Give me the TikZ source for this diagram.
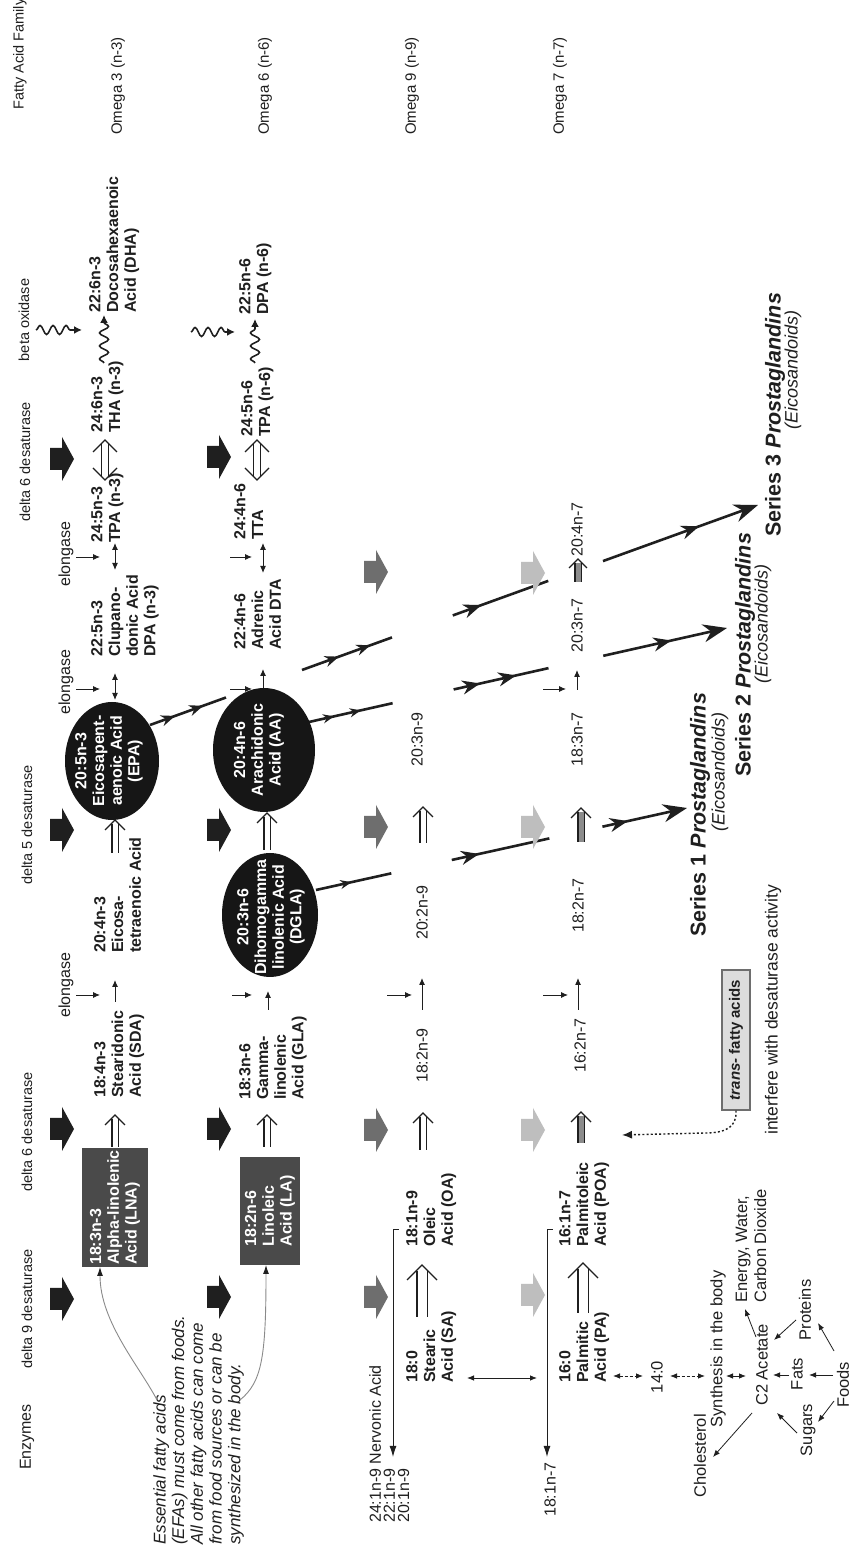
\documentclass[tikz,border=0pt]{standalone}
\usepackage{fontspec}
\setmainfont{Liberation Sans}
\usetikzlibrary{arrows.meta,shapes.geometric,decorations.pathmorphing,decorations.markings,calc}
\definecolor{ink}{HTML}{1F1F1F}
\definecolor{boxgray}{HTML}{4A4A4A}
\definecolor{ellblack}{HTML}{161616}
\definecolor{arrmid}{HTML}{6E6E6E}
\definecolor{arrlight}{HTML}{BEBEBE}
\definecolor{shaftgray}{HTML}{8C8C8C}
\definecolor{transfill}{HTML}{DDDDDD}
\definecolor{curvegray}{HTML}{8A8A8A}
\tikzset{
  lbl/.style={rotate=90, inner sep=0pt, text=ink},
  hdr/.style={lbl, font=\fontsize{14.5}{16}\selectfont},
  elg/.style={lbl, font=\fontsize{16}{18}\selectfont},
  fam/.style={lbl, anchor=west, font=\fontsize{15}{17}\selectfont},
  cmp/.style={lbl, anchor=north west, align=left, font=\bfseries\fontsize{16}{17.7}\selectfont},
  sml/.style={lbl, anchor=west, font=\fontsize{16}{18}\selectfont},
  reg/.style={lbl, font=\fontsize{16.5}{19}\selectfont},
  gbox/.style={rotate=90, fill=boxgray, text=white, align=left, inner sep=2pt, font=\bfseries\fontsize{16}{17.7}\selectfont},
  ellshape/.style={ellipse, rotate=90, fill=ellblack, inner sep=0pt},
  elltext/.style={rotate=90, text=white, align=center, inner sep=0pt, font=\bfseries\fontsize{16}{17.7}\selectfont},
  pgt/.style={lbl, anchor=west, font=\bfseries\fontsize{21.5}{24}\selectfont},
  eic/.style={lbl, font=\itshape\fontsize{18}{20}\selectfont},
  rx/.style={draw=ink, line width=1pt, -{Latex[length=7pt,width=6pt]}},
  rxx/.style={draw=ink, line width=1pt, {Latex[length=7pt,width=6pt]}-{Latex[length=7pt,width=6pt]}},
  ex/.style={draw=ink, line width=0.9pt, -{Latex[length=7pt,width=6pt]}},
  cl/.style={draw=ink, line width=0.8pt, -{Latex[length=7pt,width=5.5pt]}},
  clx/.style={draw=ink, line width=0.8pt, {Latex[length=7pt,width=5.5pt]}-{Latex[length=7pt,width=5.5pt]}},
  wavy/.style={draw=ink, line width=1.6pt, decorate, decoration={snake, amplitude=4.5pt, segment length=13pt, post length=7pt}, -{Latex[length=8pt,width=8pt]}},
  pgl/.style={draw=ink, line width=2.6pt},
  pgs/.style={postaction={decorate, decoration={markings, mark=at position #1 with {\arrow{Stealth[length=11pt,width=9pt]}}}}},
  pgm/.style={postaction={decorate, decoration={markings, mark=at position #1 with {\arrow{Stealth[length=14pt,width=11pt]}}}}},
  pgb/.style={postaction={decorate, decoration={markings, mark=at position #1 with {\arrow{Stealth[length=18pt,width=14pt]}}}}},
  pgend/.style={-{Stealth[length=24pt,width=18pt]}},
  tdot/.style={draw=ink, line width=1.4pt, dash pattern=on 2pt off 2.2pt, -{Latex[length=10pt,width=8pt]}},
  esscurve/.style={draw=curvegray, line width=0.9pt, -{Latex[length=9pt,width=6pt,color=ink]}},
  pics/blk/.style={code={\fill[#1] (-11,0) -- (11,0) -- (11,12) -- (22,12) -- (0,24) -- (-22,12) -- (-11,12) -- cycle;}},
  pics/hol/.style n args={5}{code={
    \draw[draw=ink, line width=1.1pt, double=#4, double distance=#3] (0,0) -- (#1-#5,0);
    \draw[draw=ink, line width=1.3pt] (#1-#2,-#2) -- (#1,0) -- (#1-#2,#2);}},
  pics/holtwo/.style n args={4}{code={
    \draw[draw=ink, line width=1.1pt, double=white, double distance=#3] (#4,0) -- (#1-#4,0);
    \draw[draw=ink, line width=1.3pt] (#1-#2,-#2) -- (#1,0) -- (#1-#2,#2);
    \draw[draw=ink, line width=1.3pt] (#2,-#2) -- (0,0) -- (#2,#2);}}
}
\begin{document}
\begin{tikzpicture}[x={(0pt,1pt)}, y={(1pt,0pt)}]
\fill[white] (0,0) rectangle (1547,853);
\useasboundingbox (0,0) rectangle (1547,853);

% ---------- headers ----------
\node[hdr, font=\fontsize{16}{18}\selectfont] (hEnz) at (110,27) {Enzymes};
\node[hdr] (hD9) at (238,27) {delta 9 desaturase};
\node[hdr] (hD6a) at (415,27) {delta 6 desaturase};
\node[hdr] (hD5) at (722,27) {delta 5 desaturase};
\node[hdr] (hD6b) at (1085,25) {delta 6 desaturase};
\node[hdr] (hBeta) at (1227,24) {beta oxidase};
\node[hdr, anchor=west] (hFam) at (1437,20) {Fatty Acid Family};
\node[elg] (el1) at (562,66) {elongase};
\node[elg] (el2) at (865,66) {elongase};
\node[elg] (el3) at (993,66) {elongase};

% ---------- family labels ----------
\node[fam] (f3) at (1412,118) {Omega 3 (n-3)};
\node[fam] (f6) at (1412,265) {Omega 6 (n-6)};
\node[fam] (f9) at (1412,412) {Omega 9 (n-9)};
\node[fam] (f7) at (1412,560) {Omega 7 (n-7)};

% ---------- prostaglandin lines (under ellipses) ----------
\coordinate (s1s) at (657,316); \coordinate (s1e) at (739,687);
\draw[pgl, pgs=0.47] (s1s) -- ($(s1s)!0.203!(s1e)$);
\draw[pgl, pgb=0.28] ($(s1s)!0.366!(s1e)$) -- ($(s1s)!0.629!(s1e)$);
\draw[pgl, pgb=0.3, pgend] ($(s1s)!0.772!(s1e)$) -- (s1e);
\coordinate (s2s) at (825,309); \coordinate (s2e) at (919,727);
\draw[pgl, pgs=0.3, pgs=0.62] (s2s) -- ($(s2s)!0.2!(s2e)$);
\draw[pgl, pgb=0.28, pgb=0.66] ($(s2s)!0.346!(s2e)$) -- ($(s2s)!0.573!(s2e)$);
\draw[pgl, pgb=0.55, pgend] ($(s2s)!0.704!(s2e)$) -- (s2e);
\coordinate (s3s) at (822,150); \coordinate (s3e) at (1042,758);
\draw[pgl, pgm=0.33, pgm=0.7] (s3s) -- ($(s3s)!0.125!(s3e)$);
\draw[pgl, pgm=0.41, pgm=0.76] ($(s3s)!0.25!(s3e)$) -- ($(s3s)!0.398!(s3e)$);
\draw[pgl, pgb=0.3] ($(s3s)!0.498!(s3e)$) -- ($(s3s)!0.655!(s3e)$);
\draw[pgl, pgb=0.62, pgend] ($(s3s)!0.745!(s3e)$) -- (s3e);

% ---------- omega 3 row ----------
\node[gbox, minimum width=119pt, minimum height=66pt] (lna) at (339.5,115) {18:3n-3\\Alpha-linolenic\\Acid (LNA)};
\node[cmp] (sda) at (449,94) {18:4n-3\\Stearidonic\\Acid (SDA)};
\node[cmp] (eta) at (594,94) {20:4n-3\\Eicosa-\\tetraenoic Acid};
\node[ellshape, minimum width=118pt, minimum height=94pt] (epa) at (786,112) {};
\node[elltext] (epat) at (786,109) {20:5n-3\\Eicosapent-\\aenoic Acid\\(EPA)};
\node[cmp] (dpa3) at (890,91) {22:5n-3\\Clupano-\\donic Acid\\DPA (n-3)};
\node[cmp] (tpa3) at (1004,91) {24:5n-3\\TPA (n-3)};
\node[cmp] (tha) at (1114,91) {24:6n-3\\THA (n-3)};
\node[cmp] (dha) at (1234,89) {22:6n-3\\Docosahexaenoic\\Acid (DHA)};

% ---------- omega 6 row ----------
\node[gbox, minimum width=108pt, minimum height=60pt] (la) at (336,270) {18:2n-6\\Linoleic\\Acid (LA)};
\node[cmp] (gla) at (447,239) {18:3n-6\\Gamma-\\linolenic\\Acid (GLA)};
\node[ellshape, minimum width=124pt, minimum height=96pt] (dgla) at (632,270) {};
\node[elltext] (dglat) at (630,271) {20:3n-6\\Dihomogamma\\linolenic Acid\\(DGLA)};
\node[ellshape, minimum width=124pt, minimum height=102pt] (aa) at (797,264) {};
\node[elltext] (aat) at (797,259) {20:4n-6\\Arachidonic\\Acid (AA)};
\node[cmp] (dta) at (897,234) {22:4n-6\\Adrenic\\Acid DTA};
\node[cmp] (tta) at (1007,234) {24:4n-6\\TTA};
\node[cmp] (tpa6) at (1110,241) {24:5n-6\\TPA (n-6)};
\node[cmp] (dpa6) at (1232,239) {22:5n-6\\DPA (n-6)};

% ---------- omega 9 row ----------
\node[cmp] (sa) at (164,406) {18:0\\Stearic\\Acid (SA)};
\node[cmp] (oa) at (300,406) {18:1n-9\\Oleic\\Acid (OA)};
\node[sml] (n9a) at (464,422) {18:2n-9};
\node[sml] (n9b) at (607,422) {20:2n-9};
\node[sml] (n9c) at (780,417) {20:3n-9};
\node[lbl, anchor=north west, align=left, font=\fontsize{16}{14.2}\selectfont] (nerv) at (24,369) {24:1n-9 Nervonic Acid\\22:1n-9\\20:1n-9};

% ---------- omega 7 row ----------
\node[cmp] (pa) at (164,559) {16:0\\Palmitic\\Acid (PA)};
\node[cmp] (poa) at (300,559) {16:1n-7\\Palmitoleic\\Acid (POA)};
\node[sml] (n7a) at (474,580) {16:2n-7};
\node[sml] (n7b) at (614,578) {18:2n-7};
\node[sml] (n7c) at (780,577) {18:3n-7};
\node[sml] (n7d) at (894,577) {20:3n-7};
\node[sml] (n7e) at (990,577) {20:4n-7};
\node[sml] (n7f) at (30,550) {18:1n-7};

% ---------- enzyme block arrows ----------
\pic at (248,50) {blk=ink};  \pic at (250,207) {blk=ink};
\pic at (250,364) {blk=arrmid}; \pic at (252,521) {blk=arrlight};
\pic at (418,50) {blk=ink};  \pic at (418,207) {blk=ink};
\pic at (417,364) {blk=arrmid}; \pic at (417,521) {blk=arrlight};
\pic at (717,50) {blk=ink};  \pic at (717,207) {blk=ink};
\pic at (720,364) {blk=arrmid}; \pic at (720,521) {blk=arrlight};
\pic at (975,364) {blk=arrmid}; \pic at (974,521) {blk=arrlight};
\pic at (1088,50) {blk=ink};  \pic at (1090,207) {blk=ink};

% ---------- hollow (desaturation) arrows ----------
\pic at (400,115) {hol={32}{10}{5pt}{white}{3.6}};
\pic at (694,115) {hol={33}{10}{5pt}{white}{3.6}};
\pic at (400,267) {hol={32}{10}{5pt}{white}{3.6}};
\pic at (697,267) {hol={37}{10}{5pt}{white}{3.6}};
\pic at (230,422) {hol={52}{15}{9pt}{white}{5.6}};
\pic at (397,423) {hol={37}{10}{5pt}{white}{3.6}};
\pic at (704,423) {hol={36}{10}{5pt}{white}{3.6}};
\pic at (234,583) {hol={50}{15}{9pt}{white}{5.6}};
\pic at (404,581) {hol={31}{10}{5pt}{shaftgray}{3.6}};
\pic at (705,581) {hol={34}{10}{5pt}{shaftgray}{3.6}};
\pic at (965,578) {hol={23}{9}{5pt}{shaftgray}{3.6}};
\pic at (1067,105) {holtwo={40}{12}{6pt}{4.1}};
\pic at (1067,257) {holtwo={40}{12}{6pt}{4.1}};

% ---------- elongase arrows ----------
\coordinate (ea1) at (552,76);  \coordinate (eb1) at (552,100);
\coordinate (ea2) at (552,232); \coordinate (eb2) at (552,252);
\coordinate (ea3) at (552,387); \coordinate (eb3) at (552,412);
\coordinate (ea4) at (552,543); \coordinate (eb4) at (552,568);
\coordinate (ea5) at (858,76);  \coordinate (eb5) at (858,100);
\coordinate (ea6) at (858,230); \coordinate (eb6) at (858,252);
\coordinate (ea7) at (858,543); \coordinate (eb7) at (858,566);
\coordinate (ea8) at (990,76);  \coordinate (eb8) at (990,100);
\coordinate (ea9) at (990,230); \coordinate (eb9) at (990,252);
\foreach \i in {1,...,9} {\draw[ex] (ea\i) -- (eb\i);}

% ---------- reaction arrows ----------
\coordinate (ra1) at (545,115); \coordinate (rb1) at (567,115);
\coordinate (ra2) at (537,268); \coordinate (rb2) at (556,268);
\coordinate (ra3) at (859,263); \coordinate (rb3) at (878,263);
\coordinate (ra4) at (537,422); \coordinate (rb4) at (569,422);
\coordinate (ra5) at (537,578); \coordinate (rb5) at (569,578);
\coordinate (ra6) at (857,577); \coordinate (rb6) at (877,577);
\foreach \i in {1,...,6} {\draw[rx] (ra\i) -- (rb\i);}
\coordinate (da1) at (847,115); \coordinate (db1) at (874,115);
\coordinate (da2) at (977,115); \coordinate (db2) at (1004,115);
\coordinate (da3) at (974,263); \coordinate (db3) at (1004,263);
\foreach \i in {1,2,3} {\draw[rxx] (da\i) -- (db\i);}

% ---------- wavy (beta oxidation) ----------
\coordinate (wa1) at (1184,104); \coordinate (wb1) at (1232,104);
\coordinate (wa2) at (1184,255); \coordinate (wb2) at (1228,255);
\coordinate (wa3) at (1217,36);  \coordinate (wb3) at (1217,82);
\coordinate (wa4) at (1215,191); \coordinate (wb4) at (1215,235);
\foreach \i in {1,...,4} {\draw[wavy] (wa\i) -- (wb\i);}

% ---------- elongation lines to long chains ----------
\coordinate (nv1) at (317,393); \coordinate (nv2) at (90,393);
\draw[draw=ink, line width=1pt, -{Latex[length=11pt,width=7pt]}] (nv1) -- (nv2);
\draw[draw=ink, line width=1pt] (nv1) -- ++(0,6);
\coordinate (nw1) at (317,547); \coordinate (nw2) at (90,547);
\draw[draw=ink, line width=1pt, -{Latex[length=11pt,width=7pt]}] (nw1) -- (nw2);
\draw[draw=ink, line width=1pt] (nw1) -- ++(0,6);

% ---------- synthesis cluster ----------
\node[reg] (c140) at (170,657) {14:0};
\node[reg] (chol) at (91,700) {Cholesterol};
\node[reg] (syn) at (198,718) {Synthesis in the body};
\node[reg] (c2) at (182,762) {C2 Acetate};
\node[reg, anchor=west, align=left] (energy) at (244,751) {Energy, Water,\\Carbon Dioxide};
\node[reg] (fats) at (173,797) {Fats};
\node[reg] (sugars) at (117,808) {Sugars};
\node[reg] (prot) at (237,805) {Proteins};
\node[reg] (foods) at (162,843) {Foods};
\coordinate (v1a) at (169,467); \coordinate (v1b) at (169,537);
\draw[clx] (v1a) -- (v1b);
\coordinate (v2a) at (171,613); \coordinate (v2b) at (171,643);
\draw[clx, densely dashed] (v2a) -- (v2b);
\coordinate (v3a) at (171,670); \coordinate (v3b) at (171,705);
\draw[clx, densely dashed] (v3a) -- (v3b);
\coordinate (v4a) at (171,726); \coordinate (v4b) at (171,746);
\draw[clx] (v4a) -- (v4b);
\coordinate (v5a) at (172,789); \coordinate (v5b) at (172,773);
\draw[cl] (v5a) -- (v5b);
\coordinate (v6a) at (172,833); \coordinate (v6b) at (172,809);
\draw[cl] (v6a) -- (v6b);
\coordinate (g1a) at (146,834); \coordinate (g1b) at (125,818);
\draw[cl] (g1a) -- (g1b);
\coordinate (g2a) at (196,834); \coordinate (g2b) at (224,818);
\draw[cl] (g2a) -- (g2b);
\coordinate (g3a) at (114,797); \coordinate (g3b) at (134,777);
\draw[cl] (g3a) -- (g3b);
\coordinate (g4a) at (227,796); \coordinate (g4b) at (207,774);
\draw[cl] (g4a) -- (g4b);
\coordinate (g5a) at (210,756); \coordinate (g5b) at (238,745);
\draw[cl] (g5a) -- (g5b);
\coordinate (g6a) at (134,752); \coordinate (g6b) at (90,713);
\draw[cl] (g6a) -- (g6b);

% ---------- essential fatty acids note ----------
\node[lbl, anchor=north west, align=left, font=\itshape\fontsize{17}{18.7}\selectfont] (ess) at (2,153) {Essential fatty acids\\(EFAs) must come from foods.\\All other fatty acids can come\\from food sources or can be\\synthesized in the body.};
\coordinate (ec1) at (147,157); \coordinate (ec2) at (280,100);
\draw[esscurve] (ec1) .. controls (180,140) and (225,100) .. (ec2);
\coordinate (ec3) at (147,240); \coordinate (ec4) at (282,266);
\draw[esscurve] (ec3) .. controls (165,262) and (190,266) .. (ec4);

% ---------- trans fatty acids ----------
\node[rotate=90, draw=arrmid, fill=transfill, line width=1.2pt, text=ink, font=\bfseries\fontsize{15}{17}\selectfont, minimum width=140pt, minimum height=28pt, inner sep=2pt] (trans) at (507,736) {\textit{trans-} fatty acids};
\node[lbl, anchor=west, font=\fontsize{17.5}{19}\selectfont] (intf) at (412,773) {interfere with desaturase activity};
\coordinate (tr1) at (412,622);
\draw[tdot] (trans.west) .. controls (420,737) and (414,726) .. (414,705) -- (tr1);

% ---------- prostaglandin labels ----------
\node[pgt] (ser1) at (610,700) {Series 1 \textit{Prostaglandins}};
\node[eic] (eic1) at (775,720) {(Eicosandoids)};
\node[pgt] (ser2) at (770,745) {Series 2 \textit{Prostaglandins}};
\node[eic] (eic2) at (923,763) {(Eicosandoids)};
\node[pgt] (ser3) at (1010,775) {Series 3 \textit{Prostaglandins}};
\node[eic] (eic3) at (1177,793) {(Eicosandoids)};
\end{tikzpicture}
\end{document}
